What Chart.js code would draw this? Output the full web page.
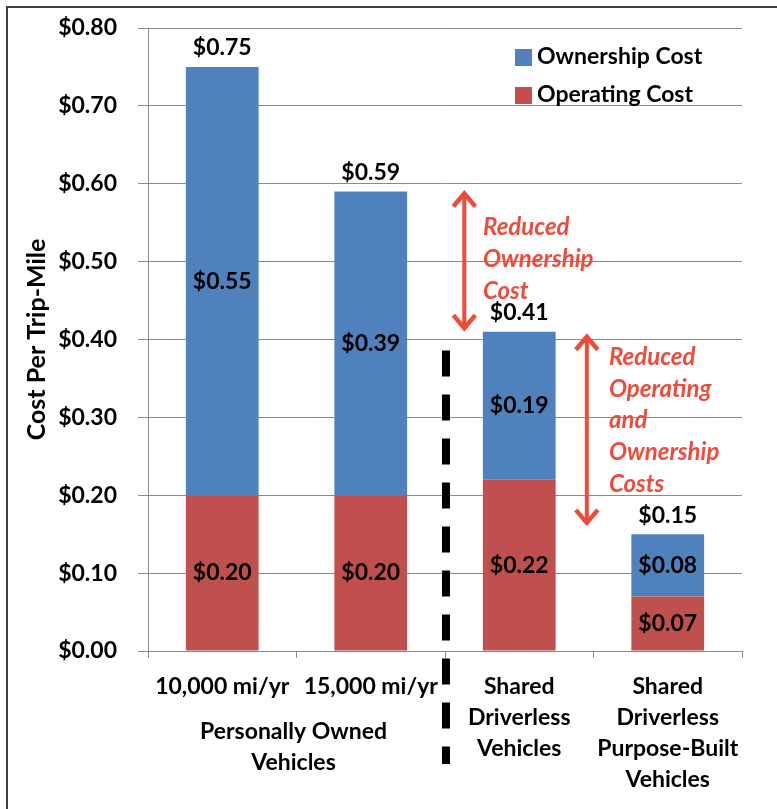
<!DOCTYPE html>
<html>
<head>
<meta charset="utf-8">
<script src="https://cdn.jsdelivr.net/npm/chart.js@4.4.1/dist/chart.umd.min.js"></script>
<style>
  html, body { margin: 0; padding: 0; background: #fff; }
  #contenedor { width: 777px; height: 809px; }
</style>
</head>
<body>
<div id="contenedor"><canvas id="graficoCostos" width="777" height="809"></canvas></div>
<script>
// datos
const categorias = [
  "10,000 mi/yr",
  "15,000 mi/yr",
  ["Shared", "Driverless", "Vehicles"],
  ["Shared", "Driverless", "Purpose-Built", "Vehicles"]
];
const grupoCategorias = ["Personally Owned", "Vehicles"];
const costoOperacion = [0.20, 0.20, 0.22, 0.07];
const costoPropiedad = [0.55, 0.39, 0.19, 0.08];
const totales = [0.75, 0.59, 0.41, 0.15];
const etiquetasY = ["$0.00", "$0.10", "$0.20", "$0.30", "$0.40", "$0.50", "$0.60", "$0.70", "$0.80"];
const notaPropiedad = ["Reduced", "Ownership", "Cost"];
const notaOperacion = ["Reduced", "Operating", "and", "Ownership", "Costs"];

const AZUL = "#4F81BD";
const ROJO = "#C0504D";
const NARANJA = "#EF4B3A";
const GRIS = "#8a8a8a";
const FUENTE = "Lato, 'Open Sans', sans-serif";

const fmt = v => "$" + v.toFixed(2);

function flecha(ctx, x, y1, y2) {
  ctx.save();
  ctx.strokeStyle = NARANJA;
  ctx.lineWidth = 4;
  ctx.beginPath();
  ctx.moveTo(x, y1 + 2);
  ctx.lineTo(x, y2 - 2);
  ctx.stroke();
  ctx.lineWidth = 4.5;
  ctx.lineJoin = "miter";
  ctx.beginPath();
  ctx.moveTo(x - 11, y1 + 15);
  ctx.lineTo(x, y1 + 2);
  ctx.lineTo(x + 11, y1 + 15);
  ctx.moveTo(x - 11, y2 - 15);
  ctx.lineTo(x, y2 - 2);
  ctx.lineTo(x + 11, y2 - 15);
  ctx.stroke();
  ctx.restore();
}

function nota(ctx, lineas, x, y, paso) {
  ctx.save();
  ctx.fillStyle = NARANJA;
  ctx.font = "italic bold 24px " + FUENTE;
  ctx.textAlign = "left";
  ctx.textBaseline = "middle";
  lineas.forEach((t, i) => ctx.fillText(t, x, y + i * paso));
  ctx.restore();
}

const extras = {
  id: "extras",
  beforeDraw(chart) {
    const ctx = chart.ctx;
    ctx.save();
    ctx.fillStyle = "#fff";
    ctx.fillRect(0, 0, chart.width, chart.height);
    ctx.strokeStyle = "#404040";
    ctx.lineWidth = 2;
    ctx.beginPath();
    ctx.moveTo(7, chart.height);
    ctx.lineTo(7, 7);
    ctx.lineTo(chart.width, 7);
    ctx.stroke();
    ctx.restore();
  },
  afterDatasetsDraw(chart) {
    const ctx = chart.ctx;
    const xs = chart.scales.x;
    const ys = chart.scales.y;
    const area = chart.chartArea;

    // etiquetas dentro de cada segmento
    ctx.save();
    ctx.fillStyle = "#000";
    ctx.font = "bold 23px " + FUENTE;
    ctx.textAlign = "center";
    ctx.textBaseline = "middle";
    chart.data.datasets.forEach((ds, i) => {
      const meta = chart.getDatasetMeta(i);
      meta.data.forEach((barra, j) => {
        const p = barra.getProps(["x", "y", "base"], true);
        ctx.fillText(fmt(ds.data[j]), p.x, (p.y + p.base) / 2);
      });
    });
    // totales arriba
    const metaTop = chart.getDatasetMeta(chart.data.datasets.length - 1);
    metaTop.data.forEach((barra, j) => {
      const p = barra.getProps(["x", "y"], true);
      ctx.fillText(fmt(totales[j]), p.x, p.y - 19);
    });

    // grupo de categorias
    const xg = xs.getPixelForValue(0.48);
    grupoCategorias.forEach((t, i) => ctx.fillText(t, xg, area.bottom + 81 + i * 31));
    ctx.restore();

    // linea divisoria
    ctx.save();
    ctx.strokeStyle = "#000";
    ctx.lineWidth = 8;
    ctx.setLineDash([26, 18]);
    const xd = xs.getPixelForValue(1.5) + 1;
    ctx.beginPath();
    ctx.moveTo(xd, ys.getPixelForValue(0.386));
    ctx.lineTo(xd, ys.getPixelForValue(-0.145));
    ctx.stroke();
    ctx.restore();

    // flechas y notas
    flecha(ctx, xs.getPixelForValue(1.63), ys.getPixelForValue(0.59), ys.getPixelForValue(0.412));
    flecha(ctx, xs.getPixelForValue(2.455), ys.getPixelForValue(0.406), ys.getPixelForValue(0.162));
    nota(ctx, notaPropiedad, xs.getPixelForValue(1.756), ys.getPixelForValue(0.544), 32);
    nota(ctx, notaOperacion, xs.getPixelForValue(2.604), ys.getPixelForValue(0.377), 31.6);

    // leyenda
    ctx.save();
    ctx.font = "bold 23px " + FUENTE;
    ctx.textAlign = "left";
    ctx.textBaseline = "middle";
    const leyenda = [chart.data.datasets[1], chart.data.datasets[0]];
    leyenda.forEach((ds, i) => {
      const y = area.top + 29 + i * 38;
      ctx.fillStyle = ds.backgroundColor;
      ctx.fillRect(area.right - 227, y - 8, 17, 17);
      ctx.fillStyle = "#000";
      ctx.fillText(ds.label, area.right - 205, y);
    });
    ctx.restore();
  }
};

new Chart(document.getElementById("graficoCostos"), {
  type: "bar",
  data: {
    labels: categorias,
    datasets: [
      {
        label: "Operating Cost",
        data: costoOperacion,
        backgroundColor: ROJO,
        categoryPercentage: 1,
        barPercentage: 0.49
      },
      {
        label: "Ownership Cost",
        data: costoPropiedad,
        backgroundColor: AZUL,
        categoryPercentage: 1,
        barPercentage: 0.49
      }
    ]
  },
  options: {
    responsive: false,
    animation: false,
    layout: { padding: { top: 28, right: 35, left: 0, bottom: 0 } },
    plugins: {
      legend: { display: false },
      tooltip: { enabled: false }
    },
    scales: {
      x: {
        stacked: true,
        afterFit: s => { s.height = 158; s.paddingLeft = 0; s.paddingRight = 0; },
        grid: { drawOnChartArea: false, tickLength: 7, color: GRIS },
        border: { color: GRIS, width: 1 },
        ticks: {
          autoSkip: false,
          maxRotation: 0,
          padding: 13,
          color: "#000",
          font: { family: FUENTE, size: 23, weight: "bold", lineHeight: "31px" }
        }
      },
      y: {
        stacked: true,
        min: 0,
        max: 0.8,
        afterFit: s => { s.width = 148; s.paddingTop = 0; s.paddingBottom = 0; },
        grid: { tickLength: 10, color: GRIS },
        border: { color: GRIS, width: 1 },
        ticks: {
          stepSize: 0.1,
          padding: 21,
          color: "#000",
          font: { family: FUENTE, size: 23, weight: "bold" },
          callback: (v, i) => etiquetasY[i]
        },
        title: {
          display: true,
          text: "Cost Per Trip-Mile",
          color: "#000",
          padding: 22,
          font: { family: FUENTE, size: 25, weight: "bold" }
        }
      }
    }
  },
  plugins: [extras]
});
</script>
</body>
</html>
